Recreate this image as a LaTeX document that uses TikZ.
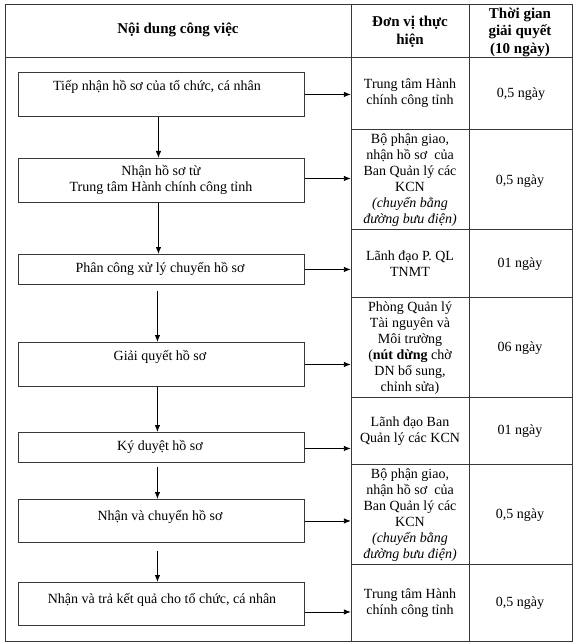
\documentclass[tikz,border=0pt]{standalone}
\usepackage{fontspec}
\setmainfont{Liberation Serif}
\usetikzlibrary{arrows.meta}
\begin{document}
\begin{tikzpicture}[x=1pt,y=-1pt,
  tline/.style={draw=black!78, line width=0.9pt},
  flowbox/.style={draw=black!78, line width=0.9pt, minimum width=286pt, inner sep=0pt, anchor=north west},
  boxtext/.style={font=\fontsize{14}{16.5}\selectfont, align=center, inner sep=0pt, text height=10pt, text depth=3.5pt},
  headtext/.style={font=\fontsize{15}{17.5}\selectfont\bfseries, align=center, inner sep=0pt},
  celltext/.style={font=\fontsize{14}{16}\selectfont, align=center, inner sep=0pt},
  ucell/.style={celltext, minimum width=118pt},
  tcell/.style={celltext, minimum width=102pt},
  arr/.style={draw=black, line width=0.9pt, -{Latex[length=7pt,width=5.5pt]}}
]
\useasboundingbox (0,0) rectangle (576,644);

% table frame
\draw[tline] (5,4) rectangle (572,641);
\draw[tline] (5,57) -- (572,57);
\draw[tline] (351,4) -- (351,641);
\draw[tline] (469,4) -- (469,641);
\foreach \yy in {129,229,297,397,464,564}
  \draw[tline] (351,\yy) -- (572,\yy);

% headers
\node[headtext] (h1) at (178,30) {Nội dung công việc};
\node[headtext] (h2) at (410,32) {Đơn vị thực\\hiện};
\node[headtext] (h3) at (520,32) {Thời gian\\giải quyết\\(10 ngày)};

% unit cells
\node[ucell, minimum height=72pt] (u1) at (410,93) {Trung tâm Hành\\chính công tỉnh};
\node[ucell, minimum height=100pt] (u2) at (410,180) {Bộ phận giao,\\nhận hồ sơ\ \ của\\Ban Quản lý các\\KCN\\\textit{(chuyển bằng}\\\textit{đường bưu điện)}};
\node[ucell, minimum height=68pt] (u3) at (410,264) {Lãnh đạo P. QL\\TNMT};
\node[ucell, minimum height=100pt] (u4) at (410,348) {Phòng Quản lý\\Tài nguyên và\\Môi trường\\(\textbf{nút dừng} chờ\\DN bổ sung,\\chỉnh sửa)};
\node[ucell, minimum height=67pt] (u5) at (410,431) {Lãnh đạo Ban\\Quản lý các KCN};
\node[ucell, minimum height=100pt] (u6) at (410,515) {Bộ phận giao,\\nhận hồ sơ\ \ của\\Ban Quản lý các\\KCN\\\textit{(chuyển bằng}\\\textit{đường bưu điện)}};
\node[ucell, minimum height=77pt] (u7) at (410,603) {Trung tâm Hành\\chính công tỉnh};

% time cells
\node[tcell] (t1) at (521,94) {0,5 ngày};
\node[tcell] (t2) at (520,181) {0,5 ngày};
\node[tcell] (t3) at (520,264) {01 ngày};
\node[tcell] (t4) at (520,348) {06 ngày};
\node[tcell] (t5) at (520,431) {01 ngày};
\node[tcell] (t6) at (520,515) {0,5 ngày};
\node[tcell] (t7) at (520,603) {0,5 ngày};

% flow boxes
\node[flowbox, minimum height=44pt] (b1) at (18,72) {};
\node[flowbox, minimum height=44pt] (b2) at (18,158) {};
\node[flowbox, minimum height=30pt] (b3) at (18,254) {};
\node[flowbox, minimum height=44pt] (b4) at (18,342) {};
\node[flowbox, minimum height=30pt] (b5) at (18,432) {};
\node[flowbox, minimum height=43pt] (b6) at (18,499) {};
\node[flowbox, minimum height=43pt] (b7) at (18,582) {};

% flow box texts
\node[boxtext] (x1) at (157,87) {Tiếp nhận hồ sơ của tổ chức, cá nhân};
\node[boxtext, text height=, text depth=] (x2) at (161,180) {Nhận hồ sơ từ\\Trung tâm Hành chính công tỉnh};
\node[boxtext] (x3) at (160,269) {Phân công xử lý chuyển hồ sơ};
\node[boxtext] (x4) at (160,357) {Giải quyết hồ sơ};
\node[boxtext] (x5) at (160,447) {Ký duyệt hồ sơ};
\node[boxtext] (x6) at (160,517) {Nhận và chuyển hồ sơ};
\node[boxtext] (x7) at (162,600) {Nhận và trả kết quả cho tổ chức, cá nhân};

% vertical arrows
\draw[arr] ([xshift=-3pt]b1.south) -- ([xshift=-3pt]b2.north);
\draw[arr] ([xshift=-3pt]b2.south) -- ([xshift=-3pt]b3.north);
\draw[arr] ([xshift=-4pt,yshift=-6pt]b3.south) -- ([xshift=-4pt]b4.north);
\draw[arr] ([xshift=-4pt]b4.south) -- ([xshift=-4pt]b5.north);
\draw[arr] ([xshift=-4pt,yshift=-4pt]b5.south) -- ([xshift=-4pt]b6.north);
\draw[arr] ([xshift=-4pt,yshift=-8pt]b6.south) -- ([xshift=-4pt]b7.north);

% horizontal arrows
\coordinate (a1) at (b1.east);
\coordinate (a2) at ([yshift=2pt]b2.east);
\coordinate (a3) at (b3.east);
\coordinate (a4) at (b4.east);
\coordinate (a5) at ([yshift=-1pt]b5.east);
\coordinate (a6) at (b6.east);
\coordinate (a7) at ([yshift=-8pt]b7.east);
\draw[arr] (a1) -- (a1 -| u1.west);
\draw[arr] (a2) -- (a2 -| u2.west);
\draw[arr] (a3) -- (a3 -| u3.west);
\draw[arr] (a4) -- (a4 -| u4.west);
\draw[arr] (a5) -- (a5 -| u5.west);
\draw[arr] (a6) -- (a6 -| u6.west);
\draw[arr] (a7) -- (a7 -| u7.west);
\end{tikzpicture}
\end{document}
